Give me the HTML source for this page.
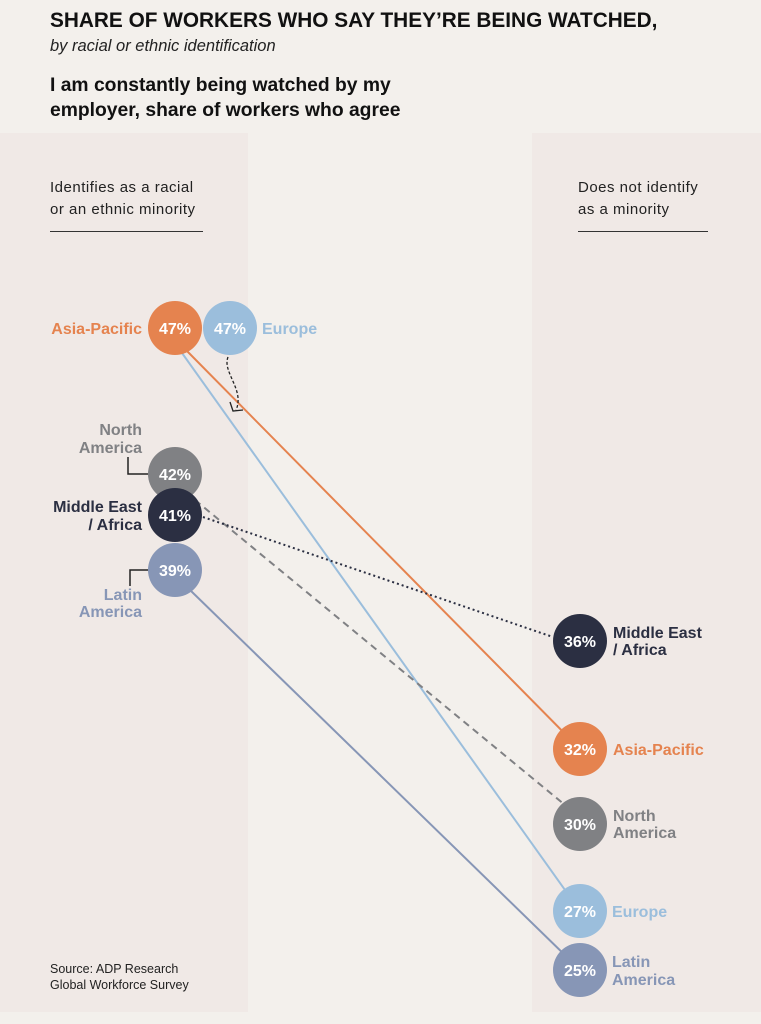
<!DOCTYPE html>
<html><head><meta charset="utf-8"><style>
html,body{margin:0;padding:0}
body{width:761px;height:1024px;background:#f3f0ec;position:relative;overflow:hidden;font-family:"Liberation Sans",sans-serif}
.t{position:absolute;white-space:nowrap}
</style></head><body>
<div style="position:absolute;left:0;top:133px;width:248px;height:879px;background:#f0e9e6"></div>
<div style="position:absolute;left:532px;top:133px;width:229px;height:879px;background:#f0e9e6"></div>
<div class="t" style="left:50px;top:9px;font-size:20.8px;font-weight:bold;color:#111">SHARE OF WORKERS WHO SAY THEY’RE BEING WATCHED,</div>
<div class="t" style="left:50px;top:37px;font-size:16.5px;font-style:italic;color:#222">by racial or ethnic identification</div>
<div class="t" style="left:50px;top:73px;font-size:19.3px;font-weight:bold;color:#111;line-height:25px">I am constantly being watched by my<br>employer, share of workers who agree</div>
<div class="t" style="left:50px;top:177px;font-size:15px;letter-spacing:0.5px;color:#222;line-height:22px">Identifies as a racial<br>or an ethnic minority</div>
<div style="position:absolute;left:50px;top:231px;width:153px;height:1px;background:#333"></div>
<div class="t" style="left:578px;top:177px;font-size:15px;letter-spacing:0.5px;color:#222;line-height:22px">Does not identify<br>as a minority</div>
<div style="position:absolute;left:578px;top:231px;width:130px;height:1px;background:#333"></div>
<div class="t" style="left:50px;top:961px;font-size:12.5px;color:#222;line-height:16px">Source: ADP Research<br>Global Workforce Survey</div>
<svg width="761" height="1024" style="position:absolute;left:0;top:0" font-family="Liberation Sans, sans-serif" font-weight="bold">
<line x1="186" y1="350" x2="580" y2="749" stroke="#e5834f" stroke-width="2"/>
<line x1="182" y1="353" x2="580" y2="911" stroke="#9bbedc" stroke-width="2"/>
<line x1="195" y1="500" x2="565" y2="805" stroke="#808184" stroke-width="2" stroke-dasharray="7,5"/>
<line x1="203" y1="517" x2="553" y2="637" stroke="#2b2f42" stroke-width="2" stroke-dasharray="2,3"/>
<line x1="190" y1="590" x2="570" y2="960" stroke="#8796b6" stroke-width="2"/>
<path d="M228,357 C222,372 245,390 236,410" fill="none" stroke="#222" stroke-width="1.3" stroke-dasharray="3,2"/>
<path d="M230,402 L233,411 L243,410" fill="none" stroke="#222" stroke-width="1.3"/>
<polyline points="128,457 128,474 150,474" fill="none" stroke="#222" stroke-width="1.5"/>
<polyline points="130,586 130,570 150,570" fill="none" stroke="#222" stroke-width="1.5"/>
<g font-size="16" text-anchor="middle" fill="#fff">
<circle cx="175" cy="328" r="27" fill="#e5834f"/><text x="175" y="334">47%</text>
<circle cx="230" cy="328" r="27" fill="#9bbedc"/><text x="230" y="334">47%</text>
<circle cx="175" cy="474" r="27" fill="#808184"/><text x="175" y="480">42%</text>
<circle cx="175" cy="515" r="27" fill="#2b2f42"/><text x="175" y="521">41%</text>
<circle cx="175" cy="570" r="27" fill="#8796b6"/><text x="175" y="576">39%</text>
<circle cx="580" cy="641" r="27" fill="#2b2f42"/><text x="580" y="647">36%</text>
<circle cx="580" cy="749" r="27" fill="#e5834f"/><text x="580" y="755">32%</text>
<circle cx="580" cy="824" r="27" fill="#808184"/><text x="580" y="830">30%</text>
<circle cx="580" cy="911" r="27" fill="#9bbedc"/><text x="580" y="917">27%</text>
<circle cx="580" cy="970" r="27" fill="#8796b6"/><text x="580" y="976">25%</text>
</g>
<g font-size="16" text-anchor="end">
<text x="142" y="334" fill="#e5834f">Asia-Pacific</text>
<text x="142" y="435" fill="#808184">North</text><text x="142" y="453" fill="#808184">America</text>
<text x="142" y="512" fill="#2b2f42">Middle East</text><text x="142" y="530" fill="#2b2f42">/ Africa</text>
<text x="142" y="600" fill="#8796b6">Latin</text><text x="142" y="617" fill="#8796b6">America</text>
</g>
<g font-size="16">
<text x="262" y="334" fill="#9bbedc">Europe</text>
<text x="613" y="638" fill="#2b2f42">Middle East</text><text x="613" y="655" fill="#2b2f42">/ Africa</text>
<text x="613" y="755" fill="#e5834f">Asia-Pacific</text>
<text x="613" y="821" fill="#808184">North</text><text x="613" y="838" fill="#808184">America</text>
<text x="612" y="917" fill="#9bbedc">Europe</text>
<text x="612" y="967" fill="#8796b6">Latin</text><text x="612" y="985" fill="#8796b6">America</text>
</g>
</svg>
</body></html>
